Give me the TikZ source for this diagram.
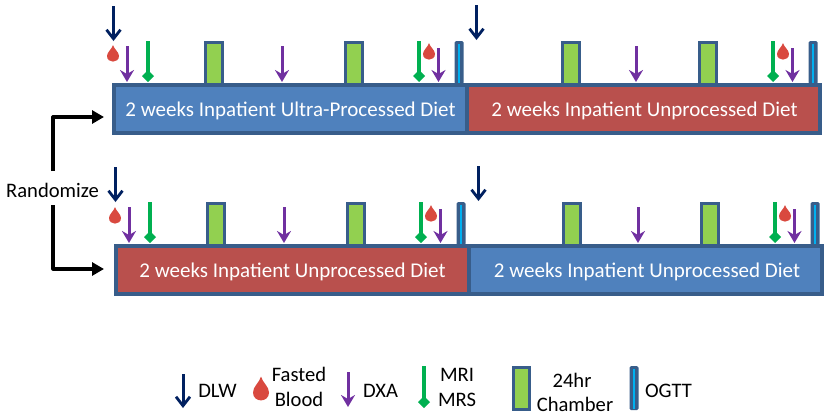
\documentclass[tikz,border=0pt]{standalone}
\usepackage{fontspec}
\setmainfont{Carlito}
\usetikzlibrary{arrows.meta}
\definecolor{dlwc}{HTML}{002060}
\definecolor{dxac}{HTML}{7030A0}
\definecolor{mric}{HTML}{00B050}
\definecolor{dropc}{HTML}{D9493F}
\definecolor{edgec}{HTML}{385D8A}
\definecolor{bluec}{HTML}{4F81BD}
\definecolor{redc}{HTML}{B9504D}
\definecolor{chamc}{HTML}{92D050}
\definecolor{ogttc}{HTML}{00B0F0}
\tikzset{
  phase/.style={draw=edgec,line width=4pt,outer sep=0pt,minimum height=48pt,inner sep=0pt,text=white,font=\fontsize{21}{25}\selectfont,text height=14pt,text depth=0pt,anchor=north west},
  label/.style={font=\fontsize{20.6}{24}\selectfont,inner sep=0pt,text=black},
  pics/dlw/.style={code={\draw[dlwc,line width=3pt,-{Straight Barb[length=9pt,width=14pt,line width=2.8pt]}] (0,0)--(0,#1);}},
  pics/dxa/.style={code={\draw[dxac,line width=3pt,-{Stealth[length=12pt,width=14pt,inset=4pt]}] (0,0)--(0,#1);}},
  pics/mri/.style={code={\draw[mric,line width=3.2pt] (0,0)--(0,#1-5);\fill[mric] (0,#1-12)--(6,#1-6)--(0,#1)--(-6,#1-6)--cycle;}},
  pics/drop/.style={code={\fill[dropc] (0,0) .. controls (1,4) and (6,7) .. (6,11) .. controls (6,18.5) and (-6,18.5) .. (-6,11) .. controls (-6,7) and (-1,4) .. (0,0)--cycle;}},
  pics/bigdrop/.style={code={\fill[dropc] (0,0) .. controls (1.5,6) and (8,10) .. (8,16) .. controls (8,26.5) and (-8,26.5) .. (-8,16) .. controls (-8,10) and (-1.5,6) .. (0,0)--cycle;}},
  pics/cham/.style={code={\draw[edgec,line width=3pt,fill=chamc] (0,#1)--(0,0)--(16.5,0)--(16.5,#1)--cycle;}},
  pics/ogtt/.style={code={\fill[edgec,rounded corners=1.5pt] (-4.5,#1)--(-4.5,0)--(4.5,0)--(4.5,#1)--cycle;\fill[ogttc] (-1.2,3)rectangle(1.2,#1-1.5);}},
}
\begin{document}
\begin{tikzpicture}[x=1pt,y=-1pt]
\useasboundingbox (0,0) rectangle (831,418);
% top row markers
\pic at (113.5,6) {dlw=35};
\pic at (113,45) {drop};
\pic at (127,46) {dxa=36};
\pic at (148,41) {mri=41};
\pic at (205.5,42.5) {cham=42};
\pic at (282,46) {dxa=36};
\pic at (345.5,42.5) {cham=42};
\pic at (419,41) {mri=41};
\pic at (429,43) {drop};
\pic at (438.5,48) {dxa=34};
\pic at (459,41) {ogtt=43};
\pic at (476.5,5) {dlw=35};
\pic at (562.5,42.5) {cham=42};
\pic at (636,46) {dxa=36};
\pic at (699.5,42.5) {cham=42};
\pic at (773,41) {mri=41};
\pic at (783,43) {drop};
\pic at (792.5,48) {dxa=34};
\pic at (813,41) {ogtt=43};
% top row bars
\node[phase,fill=bluec,minimum width=353pt] (a1) at (114,85) {2 weeks Inpatient Ultra-Processed Diet};
\node[phase,fill=redc,minimum width=353pt] (a2) at (467,85) {\hspace*{2pt}2 weeks Inpatient Unprocessed Diet};
% bottom row markers
\pic at (115.5,167) {dlw=35};
\pic at (115,207) {drop};
\pic at (129,207) {dxa=36};
\pic at (150,202) {mri=41};
\pic at (207.5,203.5) {cham=42};
\pic at (284,207) {dxa=36};
\pic at (347.5,203.5) {cham=42};
\pic at (421,202) {mri=41};
\pic at (431,205) {drop};
\pic at (440.5,209) {dxa=34};
\pic at (461,202) {ogtt=43};
\pic at (478.5,166) {dlw=35};
\pic at (563.5,203.5) {cham=42};
\pic at (638,207) {dxa=36};
\pic at (701.5,203.5) {cham=42};
\pic at (775,202) {mri=41};
\pic at (785,205) {drop};
\pic at (794.5,209) {dxa=34};
\pic at (815,202) {ogtt=43};
% bottom row bars
\node[phase,fill=redc,minimum width=353pt] (b1) at (116,246) {2 weeks Inpatient Unprocessed Diet};
\node[phase,fill=bluec,minimum width=353pt] (b2) at (469,246) {\hspace*{3pt}2 weeks Inpatient Unprocessed Diet};
% randomize
\node[label] (rand) at (52.5,190) {Randomize};
\coordinate (c1) at ([xshift=-10pt,yshift=-8pt]a1.west);
\coordinate (c2) at ([xshift=-12pt,yshift=1pt]b1.west);
\coordinate (r1) at (53,171);
\coordinate (r2) at (53,205);
\draw[black,line width=3.2pt,line join=round,-{Triangle[length=12pt,width=13pt]}] (r1) |- (c1);
\draw[black,line width=3.2pt,line join=round,-{Triangle[length=12pt,width=13pt]}] (r2) |- (c2);
% legend
\pic at (183,374) {dlw=34};
\node[label] (l1) at (217.5,391) {DLW};
\pic at (261,376.5) {bigdrop};
\node[label] (l2a) at (299,374) {Fasted};
\node[label] (l2b) at (299,399.5) {Blood};
\pic at (348,372) {dxa=35};
\node[label] (l3) at (380.5,391) {DXA};
\pic at (424,366) {mri=42};
\node[label] (l4a) at (457,375) {MRI};
\node[label] (l4b) at (457,400) {MRS};
\pic at (513,367.5) {cham=42};
\node[label] (l5a) at (572,380) {24hr};
\node[label] (l5b) at (575,404) {Chamber};
\pic at (634,366) {ogtt=44};
\node[label] (l6) at (668.5,391) {OGTT};
\end{tikzpicture}
\end{document}
